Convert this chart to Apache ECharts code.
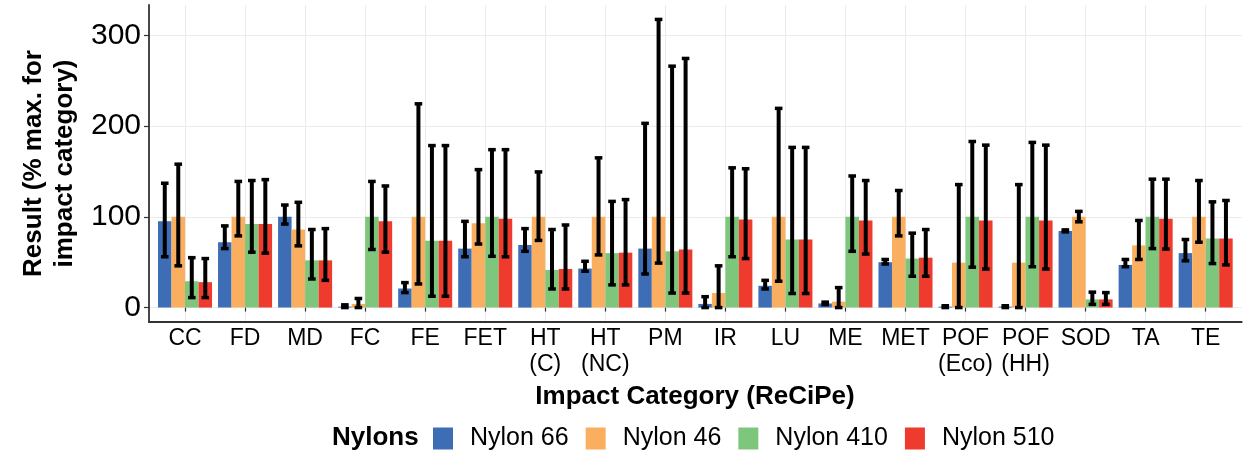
<!DOCTYPE html>
<html>
<head>
<meta charset="utf-8">
<script src="https://cdn.jsdelivr.net/npm/echarts@6/dist/echarts.min.js"></script>
<style>html,body{margin:0;padding:0;background:#fff;}#c{width:1250px;height:454px;}</style>
</head>
<body>
<div id="c"></div>
<script>
var categories = ['CC','FD','MD','FC','FE','FET','HT\n(C)','HT\n(NC)','PM','IR','LU','ME','MET','POF\n(Eco)','POF\n(HH)','SOD','TA','TE'];
var seriesNames = ['Nylon 66','Nylon 46','Nylon 410','Nylon 510'];
var yTicks = [0, 100, 200, 300];

var nylon66   = [95, 72, 100, 1, 21, 65, 69, 43, 65, 4, 24, 4.5, 50, 1, 1, 84.5, 47, 60];
var nylon66Lo = [56, 65, 92, 0, 16.5, 56, 62, 40, 37, 0, 20.5, 3.3, 48, 0, 0, 83.4, 45, 51.5];
var nylon66Hi = [137, 90, 113, 3, 27.5, 95, 87, 51, 203, 12, 30, 6, 53, 2, 2, 85.6, 53, 75];

var nylon46   = [100, 100, 86, 4, 100, 93, 100, 100, 100, 16, 100, 6.5, 100, 49.5, 49.5, 100, 68.5, 100];
var nylon46Lo = [46, 79, 68, 0, 26, 70, 74, 58, 49, 0, 29, 0, 79, 0, 0, 94.5, 53, 72];
var nylon46Hi = [158, 139, 116, 10, 224.5, 152, 149.5, 165, 317.5, 46, 219.5, 22, 129, 135.5, 135.5, 106, 96, 140];

var nylon410   = [29, 92, 52, 100, 73.5, 100, 41.5, 60, 62, 100, 75, 100, 54, 100, 100, 9, 100, 76];
var nylon410Lo = [11, 61, 31.5, 64, 12.5, 56.5, 20.5, 25, 16, 56, 15.5, 62, 34.5, 44.5, 45, 3.5, 65, 48.5];
var nylon410Hi = [55, 140, 86, 139, 178.5, 174, 86, 117, 266, 154, 176.5, 145, 82, 183, 182, 17, 141.5, 116.5];

var nylon510   = [28, 92, 52, 95, 73.5, 98, 42.5, 60.5, 64, 97, 75, 96, 55, 96, 96, 9, 98, 76];
var nylon510Lo = [11, 60, 30, 61, 12.5, 56, 20.5, 25, 16, 54, 15.5, 59, 34.5, 42.5, 42.5, 3.5, 64.5, 47];
var nylon510Hi = [54, 141, 87, 134, 178.5, 174, 91, 119, 274.5, 153, 176.5, 140, 86, 179, 179, 16.5, 141.5, 118];

var colors = ['#3C6DB5', '#F9AF5F', '#7DC67B', '#EE3B2E'];
var values = [nylon66, nylon46, nylon410, nylon510];
var lows = [nylon66Lo, nylon46Lo, nylon410Lo, nylon510Lo];
var highs = [nylon66Hi, nylon46Hi, nylon410Hi, nylon510Hi];

var FONT = '"Liberation Sans", Arial, Helvetica, sans-serif';
var Y_MIN = -15.9, Y_MAX = 333.4;

var chart = echarts.init(document.getElementById('c'), null, {renderer: 'canvas'});

function errSeries(si) {
  return {
    type: 'custom',
    name: 'err' + si,
    xAxisIndex: 1, yAxisIndex: 1,
    z: 10,
    silent: true,
    renderItem: function (params, api) {
      var c = api.value(0), lo = api.value(1), hi = api.value(2);
      var band = api.size([1, 0])[0];
      var bw = band * 0.9 / 4;
      var x = api.coord([c, 0])[0] + (si - 1.5) * bw;
      var yl = api.coord([c, lo])[1];
      var yh = api.coord([c, hi])[1];
      var cw = 3.8;
      return {
        type: 'group',
        children: [
          {type: 'line', shape: {x1: x, y1: yl, x2: x, y2: yh}, style: {stroke: '#000', lineWidth: 4}},
          {type: 'line', shape: {x1: x - cw, y1: yh, x2: x + cw, y2: yh}, style: {stroke: '#000', lineWidth: 3.5}},
          {type: 'line', shape: {x1: x - cw, y1: yl, x2: x + cw, y2: yl}, style: {stroke: '#000', lineWidth: 3.5}}
        ]
      };
    },
    data: categories.map(function (c, i) { return [i, lows[si][i], highs[si][i]]; })
  };
}

var series = [];
for (var s = 0; s < 4; s++) {
  series.push({
    type: 'bar',
    name: seriesNames[s],
    xAxisIndex: 1, yAxisIndex: 1,
    barGap: '0%',
    barCategoryGap: '10%',
    itemStyle: {color: colors[s]},
    data: values[s]
  });
}
for (var s2 = 0; s2 < 4; s2++) series.push(errSeries(s2));

var option = {
  animation: false,
  backgroundColor: '#ffffff',
  textStyle: {fontFamily: FONT},
  grid: [
    {left: 149, right: 8.3, top: 5, bottom: 132, containLabel: false},
    {left: 155, right: 14.3, top: 5, bottom: 132, containLabel: false}
  ],
  xAxis: [
    {
      type: 'value', gridIndex: 0, min: 0, max: 1,
      axisLine: {show: true, onZero: false, lineStyle: {color: '#333', width: 1.8}},
      axisTick: {show: false}, axisLabel: {show: false}, splitLine: {show: false}
    },
    {
      type: 'category', gridIndex: 1, data: categories,
      axisLine: {show: false},
      axisTick: {show: true, alignWithLabel: true, length: 4, lineStyle: {color: '#333', width: 1.2}},
      axisLabel: {show: true, interval: 0, margin: 4, fontSize: 23, lineHeight: 26, color: '#000', fontFamily: FONT},
      splitLine: {show: true, alignWithLabel: true, interval: 0, lineStyle: {color: '#EBEBEB', width: 1}}
    }
  ],
  yAxis: [
    {
      type: 'value', gridIndex: 0, min: Y_MIN, max: Y_MAX,
      axisLine: {show: true, lineStyle: {color: '#333', width: 1.8}},
      axisTick: {show: true, length: 5, customValues: yTicks, lineStyle: {color: '#333', width: 1.2}},
      axisLabel: {show: true, customValues: yTicks, margin: 8, fontSize: 30, color: '#000', fontFamily: FONT},
      splitLine: {show: true, customValues: yTicks, lineStyle: {color: '#EBEBEB', width: 1}}
    },
    {
      type: 'value', gridIndex: 1, min: Y_MIN, max: Y_MAX, show: false,
      splitLine: {show: false}
    }
  ],
  legend: {
    data: seriesNames.map(function (n, i) { return {name: n, icon: 'rect', itemStyle: {color: colors[i]}}; }),
    left: 433, top: 426, padding: 0,
    itemWidth: 20, itemHeight: 22, itemGap: 17,
    textStyle: {fontSize: 25, color: '#000', fontFamily: FONT, padding: [0, 0, 0, 12]}
  },
  graphic: [
    {
      type: 'text', x: 49.5, y: 163.5, rotation: Math.PI / 2,
      style: {text: 'Result (% max. for\nimpact category)', fontSize: 26, fontWeight: 'bold', fontFamily: FONT,
        fill: '#000', align: 'center', verticalAlign: 'middle', lineHeight: 31}
    },
    {
      type: 'text', x: 695, y: 397,
      style: {text: 'Impact Category (ReCiPe)', fontSize: 26, fontWeight: 'bold', fontFamily: FONT,
        fill: '#000', align: 'center', verticalAlign: 'middle'}
    },
    {
      type: 'text', x: 332, y: 438,
      style: {text: 'Nylons', fontSize: 26, fontWeight: 'bold', fontFamily: FONT,
        fill: '#000', align: 'left', verticalAlign: 'middle'}
    }
  ],
  series: series
};
chart.setOption(option);
</script>
</body>
</html>
